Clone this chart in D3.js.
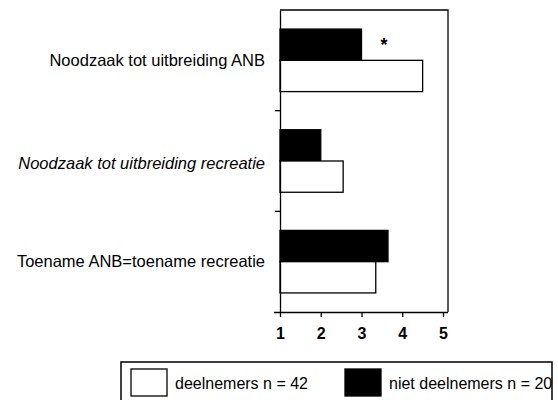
<!DOCTYPE html>
<html>
<head>
<meta charset="utf-8">
<script src="https://cdn.jsdelivr.net/npm/d3@7"></script>
<style>
  body { margin: 0; background: #fff; }
  svg { display: block; font-family: "Liberation Sans", Arial, sans-serif; }
</style>
</head>
<body>
<div id="chart"></div>
<script>
// data
var categories = ["Noodzaak tot uitbreiding ANB", "Noodzaak tot uitbreiding recreatie", "Toename ANB=toename recreatie"];
var italicCats = ["Noodzaak tot uitbreiding recreatie"];
var seriesKeys = ["niet", "deel"];
var seriesNames = ["niet deelnemers n = 20", "deelnemers n = 42"];
var nietValues = [3.0, 2.0, 3.65];
var deelValues = [4.5, 2.55, 3.35];
var xTicks = [1, 2, 3, 4, 5];
var significant = ["Noodzaak tot uitbreiding ANB"];

var rows = categories.map(function(c, i) {
    return {cat: c, niet: nietValues[i], deel: deelValues[i]};
});

var width = 558, height = 400;
var svg = d3.select("#chart").append("svg")
    .attr("width", width)
    .attr("height", height);

var x = d3.scaleLinear().domain([1, 5]).range([280, 443]);
var y0 = d3.scaleBand().domain(categories).range([10, 312]).padding(0);
var y1 = d3.scaleBand().domain(seriesKeys).range([0, y0.bandwidth()])
    .paddingInner(0).paddingOuter(0.61);
var colors = {niet: "#000", deel: "#fff"};

// frame (top & right)
svg.append("path")
    .attr("d", "M" + x(1) + "," + y0.range()[0] + "H448V" + y0.range()[1])
    .attr("fill", "none")
    .attr("stroke", "#000")
    .attr("stroke-width", 1.3);

// bars
var g = svg.append("g");
g.selectAll("g")
    .data(rows)
    .join("g")
    .attr("transform", function(d) { return "translate(0," + y0(d.cat) + ")"; })
    .selectAll("rect")
    .data(function(d) {
        return seriesKeys.map(function(k) { return {key: k, value: d[k]}; });
    })
    .join("rect")
    .attr("x", x(1))
    .attr("y", function(d) { return y1(d.key); })
    .attr("width", function(d) { return x(d.value) - x(1); })
    .attr("height", y1.bandwidth())
    .attr("fill", function(d) { return colors[d.key]; })
    .attr("stroke", "#000")
    .attr("stroke-width", 1.3);

// significance marker
svg.selectAll(".star")
    .data(significant)
    .join("text")
    .attr("class", "star")
    .attr("x", 384)
    .attr("y", function(d) { return y0(d) + y1("niet") + 22; })
    .attr("text-anchor", "middle")
    .style("font-size", "18px")
    .style("font-weight", "bold")
    .text("*");

// x axis
var xAxis = d3.axisBottom(x).tickValues(xTicks).tickSize(5).tickPadding(11)
    .tickFormat(d3.format("d"));
svg.append("g")
    .attr("transform", "translate(0," + y0.range()[1] + ")")
    .call(xAxis)
    .call(function(a) {
        a.select(".domain").attr("d", "M274,0.5H448").attr("stroke-width", 1.5);
        a.selectAll(".tick line").attr("stroke-width", 1.3);
        a.selectAll("text").style("font-size", "16px").style("font-weight", "bold")
            .style("font-family", "'Liberation Sans', Arial, sans-serif").attr("fill", "#000");
    });

// y axis with ticks at band boundaries
var yAxis = d3.axisLeft(y0).tickSize(0).tickPadding(15);
svg.append("g")
    .attr("transform", "translate(" + x(1) + ",0)")
    .call(yAxis)
    .call(function(a) {
        a.select(".domain").attr("stroke-width", 1.3);
        a.selectAll("text")
            .attr("dy", function(d) { return italicCats.indexOf(d) >= 0 ? "0.5em" : "0.32em"; })
            .style("font-size", "16.5px")
            .style("font-family", "'Liberation Sans', Arial, sans-serif")
            .style("font-style", function(d) { return italicCats.indexOf(d) >= 0 ? "italic" : "normal"; })
            .attr("fill", "#000");
    });
svg.append("g").selectAll("line")
    .data(categories.slice(1))
    .join("line")
    .attr("x1", x(1) - 5).attr("x2", x(1))
    .attr("y1", function(d) { return y0(d); })
    .attr("y2", function(d) { return y0(d); })
    .attr("stroke", "#000")
    .attr("stroke-width", 1.3);

// legend
var legend = svg.append("g");
legend.append("rect")
    .attr("x", 121).attr("y", 362)
    .attr("width", 431).attr("height", 60)
    .attr("fill", "none").attr("stroke", "#000").attr("stroke-width", 1.5);
var legendItems = [
    {key: "deel", name: seriesNames[1], x: 131},
    {key: "niet", name: seriesNames[0], x: 345}
];
var li = legend.selectAll(".item")
    .data(legendItems)
    .join("g")
    .attr("class", "item")
    .attr("transform", function(d) { return "translate(" + d.x + ",369)"; });
li.append("rect")
    .attr("width", 36).attr("height", 27)
    .attr("fill", function(d) { return colors[d.key]; })
    .attr("stroke", "#000").attr("stroke-width", 1.3);
li.append("text")
    .attr("x", 44).attr("y", 20)
    .style("font-size", "16px")
    .text(function(d) { return d.name; });
</script>
</body>
</html>
